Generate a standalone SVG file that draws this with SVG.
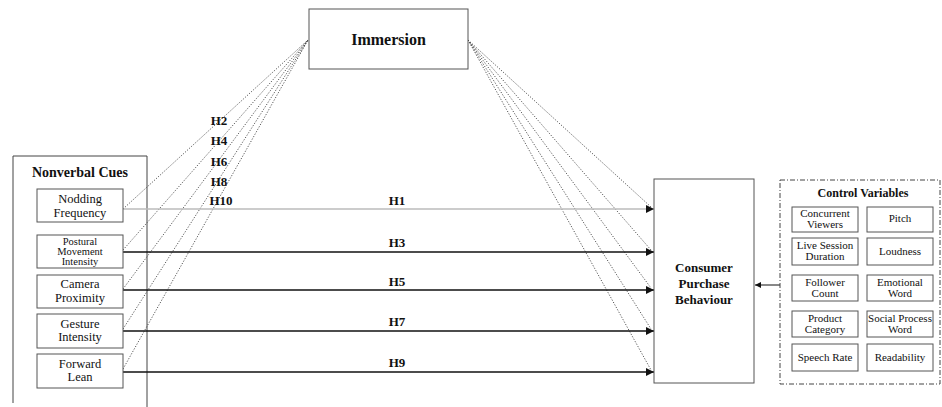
<svg xmlns="http://www.w3.org/2000/svg" width="942" height="407" viewBox="0 0 942 407">
<defs>
<style>
text{font-family:"Liberation Serif","Times New Roman",serif;fill:#111;text-anchor:middle}
.b{font-weight:bold}
.box{fill:#fff;stroke:#555;stroke-width:1}
.cue{font-size:12.5px}
.sm{font-size:10.5px}
.cv{font-size:11px}
.hl{font-size:13px;font-weight:bold}
.dot{fill:none;stroke:#444;stroke-width:0.9;stroke-dasharray:1.2 1.6}
.sol{fill:none;stroke:#111;stroke-width:1.5}
</style>
<marker id="ah" viewBox="0 0 10 10" refX="10" refY="5" markerWidth="8" markerHeight="8" markerUnits="userSpaceOnUse" orient="auto">
<path d="M0,0 L10,5 L0,10 z" fill="#111"/>
</marker>
<marker id="ahs" viewBox="0 0 10 10" refX="10" refY="5" markerWidth="6" markerHeight="6" markerUnits="userSpaceOnUse" orient="auto">
<path d="M0,0 L10,5 L0,10 z" fill="#111"/>
</marker>
</defs>
<rect width="942" height="407" fill="#fff"/>

<g id="nonverbal-cues">
<path d="M13,403 V156 H147 V407" fill="none" stroke="#444" stroke-width="1"/>
<text x="80" y="177" class="b" font-size="14">Nonverbal Cues</text>
</g>

<g id="connectors">
<g id="dotted-left">
<line class="dot" x1="123" y1="209" x2="308" y2="40"/>
<line class="dot" x1="123" y1="250" x2="308" y2="40"/>
<line class="dot" x1="123" y1="289" x2="308" y2="40"/>
<line class="dot" x1="123" y1="329" x2="308" y2="40"/>
<line class="dot" x1="123" y1="369" x2="308" y2="40"/>
</g>
<g id="dotted-right">
<line class="dot" x1="468" y1="40" x2="651" y2="207"/>
<line class="dot" x1="468" y1="40" x2="651" y2="250"/>
<line class="dot" x1="468" y1="40" x2="651" y2="288"/>
<line class="dot" x1="468" y1="40" x2="651" y2="329"/>
<line class="dot" x1="468" y1="40" x2="651" y2="370"/>
</g>
<line x1="123" y1="209" x2="654" y2="209" stroke="#bbb" stroke-width="1.5" marker-end="url(#ah)"/>
<line class="sol" x1="123" y1="252" x2="654" y2="252" marker-end="url(#ah)"/>
<line class="sol" x1="123" y1="290" x2="654" y2="290" marker-end="url(#ah)"/>
<line class="sol" x1="123" y1="331" x2="654" y2="331" marker-end="url(#ah)"/>
<line class="sol" x1="123" y1="372" x2="654" y2="372" stroke-width="2" marker-end="url(#ah)"/>
<line x1="780" y1="285" x2="755" y2="285" stroke="#111" stroke-width="1" marker-end="url(#ahs)"/>
<g id="labels">
<text class="hl" x="219" y="125">H2</text>
<text class="hl" x="219" y="145">H4</text>
<text class="hl" x="219" y="166">H6</text>
<text class="hl" x="219" y="186">H8</text>
<text class="hl" x="221" y="205">H10</text>
<text class="hl" x="397" y="205">H1</text>
<text class="hl" x="397" y="247">H3</text>
<text class="hl" x="397" y="286">H5</text>
<text class="hl" x="397" y="326">H7</text>
<text class="hl" x="397" y="367">H9</text>
</g>
</g>

<g id="immersion">
<rect class="box" x="309" y="9" width="159" height="60"/>
<text x="388.5" y="45" class="b" font-size="16">Immersion</text>
</g>

<g id="nodding-frequency">
<rect class="box" x="37" y="189" width="86" height="33"/>
<text class="cue" x="80" y="203">Nodding</text>
<text class="cue" x="80" y="216.5">Frequency</text>
</g>
<g id="postural-movement-intensity">
<rect class="box" x="37" y="235" width="86" height="33"/>
<text class="sm" x="80" y="245">Postural</text>
<text class="sm" x="80" y="255">Movement</text>
<text class="sm" x="80" y="265">Intensity</text>
</g>
<g id="camera-proximity">
<rect class="box" x="37" y="275" width="86" height="33"/>
<text class="cue" x="80" y="288">Camera</text>
<text class="cue" x="80" y="302">Proximity</text>
</g>
<g id="gesture-intensity">
<rect class="box" x="37" y="314" width="86" height="34"/>
<text class="cue" x="80" y="328">Gesture</text>
<text class="cue" x="80" y="341">Intensity</text>
</g>
<g id="forward-lean">
<rect class="box" x="37" y="354" width="86" height="34"/>
<text class="cue" x="80" y="368">Forward</text>
<text class="cue" x="80" y="381">Lean</text>
</g>

<g id="consumer-purchase-behaviour">
<rect class="box" x="654" y="179" width="100" height="204"/>
<text class="b" font-size="13" x="704" y="272">Consumer</text>
<text class="b" font-size="13" x="704" y="288">Purchase</text>
<text class="b" font-size="13" x="704" y="304">Behaviour</text>
</g>

<g id="control-variables">
<rect x="780" y="180" width="160" height="204" fill="none" stroke="#444" stroke-width="1" stroke-dasharray="5 2 1 2"/>
<text class="b" font-size="12" x="863" y="197">Control Variables</text>
<g id="concurrent-viewers"><rect class="box" x="792" y="207" width="66" height="25"/><text class="cv" x="825" y="217">Concurrent</text><text class="cv" x="825" y="228">Viewers</text></g>
<g id="pitch"><rect class="box" x="867" y="207" width="66" height="25"/><text class="cv" x="900" y="222">Pitch</text></g>
<g id="live-session-duration"><rect class="box" x="792" y="238" width="66" height="27"/><text class="cv" x="825" y="249">Live Session</text><text class="cv" x="825" y="260">Duration</text></g>
<g id="loudness"><rect class="box" x="867" y="238" width="66" height="27"/><text class="cv" x="900" y="255">Loudness</text></g>
<g id="follower-count"><rect class="box" x="792" y="275" width="66" height="26"/><text class="cv" x="825" y="285.5">Follower</text><text class="cv" x="825" y="296.5">Count</text></g>
<g id="emotional-word"><rect class="box" x="867" y="275" width="66" height="26"/><text class="cv" x="900" y="285.5">Emotional</text><text class="cv" x="900" y="296.5">Word</text></g>
<g id="product-category"><rect class="box" x="792" y="311" width="66" height="26"/><text class="cv" x="825" y="321.5">Product</text><text class="cv" x="825" y="332.5">Category</text></g>
<g id="social-process-word"><rect class="box" x="867" y="311" width="66" height="26"/><text class="cv" x="900" y="321.5">Social Process</text><text class="cv" x="900" y="332.5">Word</text></g>
<g id="speech-rate"><rect class="box" x="792" y="344" width="66" height="27"/><text class="cv" x="825" y="361">Speech Rate</text></g>
<g id="readability"><rect class="box" x="867" y="344" width="66" height="27"/><text class="cv" x="900" y="361">Readability</text></g>
</g>
</svg>
